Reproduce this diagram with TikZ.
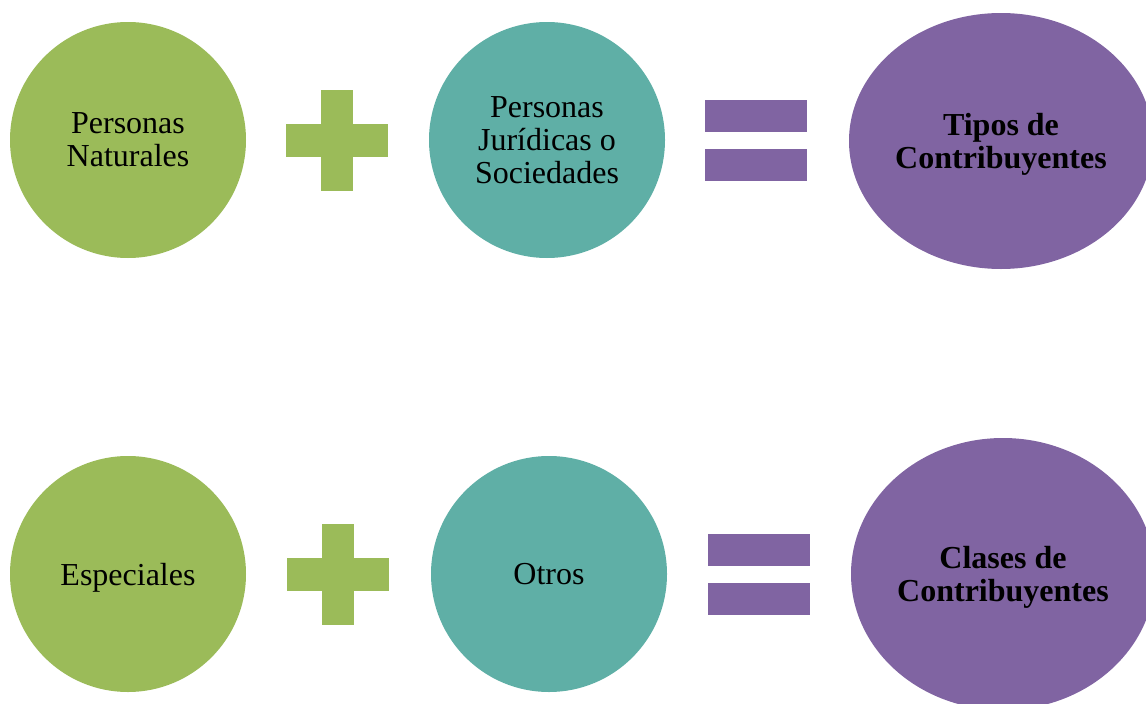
\documentclass[tikz,border=0pt]{standalone}
\usepackage{fontspec}
\setmainfont{Liberation Serif}
\usetikzlibrary{shapes.geometric}
\definecolor{verde}{HTML}{9BBB59}
\definecolor{turquesa}{HTML}{5FAFA6}
\definecolor{morado}{HTML}{8064A2}
\begin{document}
\begin{tikzpicture}[x=1pt,y=-1pt,
    circulo/.style={circle, minimum size=236pt, inner sep=0pt, align=center,
        text depth=0pt, font=\fontsize{32}{33}\selectfont},
    ovalo/.style={ellipse, fill=morado, inner sep=0pt, align=center,
        text depth=0pt, font=\fontsize{32}{33}\selectfont\bfseries}]
    \clip (0,0) rectangle (1146,704);
    % fila de arriba
    \node[circulo, fill=verde] (naturales) at (128,140) {Personas\\Naturales};
    \node[circulo, fill=turquesa] (juridicas) at (547,140) {Personas\\Jurídicas o\\Sociedades};
    \node[ovalo, minimum width=304pt, minimum height=256pt] (tipos) at (1001,141) {Tipos de\\Contribuyentes};
    % fila de abajo
    \node[circulo, fill=verde] (especiales) at (128,574) {Especiales};
    \node[circulo, fill=turquesa] (otros) at (549,574) {Otros};
    \node[ovalo, minimum width=304pt, minimum height=272pt] (clases) at (1003,574) {Clases de\\Contribuyentes};
    % signos
    \foreach \x/\y in {337/140, 338/574} {
        \fill[verde] (\x-16,\y-50) rectangle (\x+16,\y+51);
        \fill[verde] (\x-51,\y-16) rectangle (\x+51,\y+17);
    }
    \foreach \x/\y in {756/140, 759/574} {
        \fill[morado] (\x-51,\y-40) rectangle (\x+51,\y-8);
        \fill[morado] (\x-51,\y+9) rectangle (\x+51,\y+41);
    }
\end{tikzpicture}
\end{document}
